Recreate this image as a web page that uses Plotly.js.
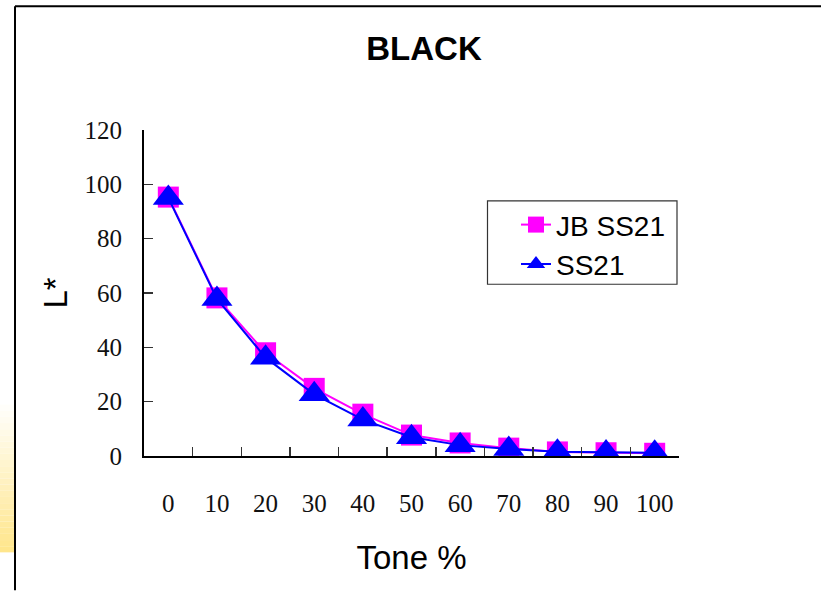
<!DOCTYPE html>
<html>
<head>
<meta charset="utf-8">
<script src="https://cdn.plot.ly/plotly-3.0.1.min.js"></script>
<style>
  html, body { margin: 0; padding: 0; background: #ffffff; }
  #chart { width: 821px; height: 591px; }
</style>
</head>
<body>
<div id="chart"></div>
<script>
// ---- data ----
const toneCategories = ["0", "10", "20", "30", "40", "50", "60", "70", "80", "90", "100"];
const jbSS21 = [95.3, 58.2, 38.0, 24.9, 15.4, 7.7, 4.8, 2.9, 1.5, 1.2, 1.0];
const ss21   = [95.0, 57.8, 36.2, 22.7, 13.4, 6.9, 4.0, 2.6, 1.6, 1.3, 1.2];
const seriesNames = ["JB SS21", "SS21"];
const chartTitle = "BLACK";
const xTitle = "Tone %";
const yTitle = "L*";

// ---- geometry helpers (pixel -> paper) ----
const W = 821, H = 591;
const L = 144, R = 679, T = 130, B = 456.5;
const px = p => (p - L) / (R - L);
const py = p => (B - p) / (B - T);

// yellow gradient strip at the left edge
const gradShapes = [];
const g0 = 405, g1 = 553, steps = 24;
for (let i = 0; i < steps; i++) {
  const a = g0 + (g1 - g0) * i / steps;
  const b = g0 + (g1 - g0) * (i + 1) / steps;
  const t = (i + 1) / steps;
  const r = 255, gg = Math.round(255 - (255 - 230) * t), bb = Math.round(255 - (255 - 140) * t);
  gradShapes.push({type: 'rect', xref: 'paper', yref: 'paper', layer: 'below',
    x0: px(0), x1: px(15), y0: py(b), y1: py(a),
    line: {width: 0}, fillcolor: `rgb(${r},${gg},${bb})`});
}

const traces = [
  {
    x: toneCategories, y: jbSS21, name: seriesNames[0], type: 'scatter', mode: 'lines+markers',
    line: {color: '#FF00FF', width: 2},
    marker: {symbol: 'square', size: 21, color: '#FF00FF'}
  },
  {
    x: toneCategories, y: ss21, name: seriesNames[1], type: 'scatter', mode: 'lines+markers',
    line: {color: '#0000FF', width: 2},
    marker: {symbol: 'triangle-up', size: 27, color: '#0000FF'}
  }
];

const tickFont = {family: 'Liberation Serif, Times New Roman, serif', size: 25, color: '#111'};

const layout = {
  width: W, height: H, autosize: false,
  margin: {l: L, r: W - R, t: T, b: H - B, pad: 0},
  paper_bgcolor: '#ffffff', plot_bgcolor: '#ffffff',
  showlegend: true,
  title: {
    text: '<b>' + chartTitle + '</b>',
    font: {family: 'Liberation Sans, Arial, sans-serif', size: 33, color: '#000'},
    x: 424 / W, xanchor: 'center', xref: 'container',
    y: 1 - 48 / H, yanchor: 'middle', yref: 'container'
  },
  xaxis: {
    type: 'category', range: [-0.5, 10.5], fixedrange: true,
    showline: true, linecolor: '#000', linewidth: 2,
    ticks: 'inside', tickson: 'boundaries', ticklen: 9, tickwidth: 1.5, tickcolor: '#333',
    showgrid: false, zeroline: false,
    tickfont: tickFont, ticklabelstandoff: 24,
    title: {text: xTitle, font: {family: 'Liberation Sans, Arial, sans-serif', size: 33, color: '#000'}, standoff: 30},
    automargin: false
  },
  yaxis: {
    range: [0, 120], dtick: 20, tick0: 0, fixedrange: true,
    showline: true, linecolor: '#000', linewidth: 2,
    ticks: 'inside', ticklen: 9, tickwidth: 1.5, tickcolor: '#333',
    showgrid: false, zeroline: false,
    tickfont: tickFont, ticklabelstandoff: 15,
    title: {text: yTitle, font: {family: 'Liberation Sans, Arial, sans-serif', size: 33, color: '#000'}, standoff: 7},
    automargin: false
  },
  legend: {
    x: px(516), xanchor: 'left', y: py(200), yanchor: 'top',
    bgcolor: 'rgba(0,0,0,0)', borderwidth: 0,
    font: {family: 'Liberation Sans, Arial, sans-serif', size: 28, color: '#000'},
    tracegroupgap: 0
  },
  shapes: gradShapes.concat([
    // legend box
    {type: 'rect', xref: 'paper', yref: 'paper', x0: px(487.5), x1: px(677), y0: py(284.5), y1: py(201),
     line: {color: '#333', width: 1.2}, fillcolor: 'rgba(0,0,0,0)'},
    // slide frame: top and left lines
    {type: 'line', xref: 'paper', yref: 'paper', x0: px(15), x1: px(821), y0: py(6), y1: py(6),
     line: {color: '#000', width: 2}},
    {type: 'line', xref: 'paper', yref: 'paper', x0: px(15), x1: px(15), y0: py(6), y1: py(591),
     line: {color: '#000', width: 2}}
  ])
};

Plotly.newPlot('chart', traces, layout, {displayModeBar: false, staticPlot: true});
</script>
</body>
</html>
